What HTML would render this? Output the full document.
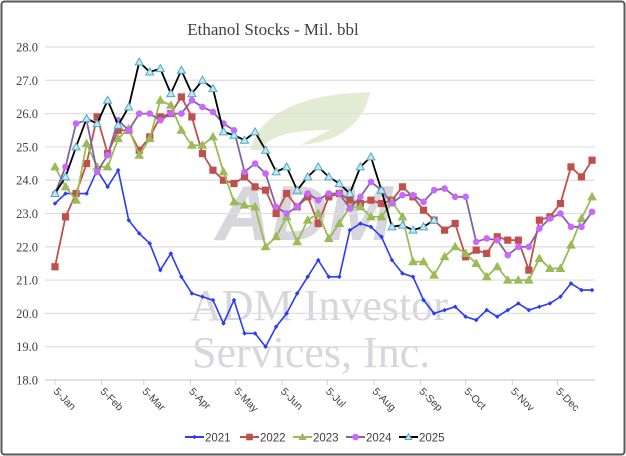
<!DOCTYPE html>
<html><head><meta charset="utf-8"><style>
body{margin:0;background:#fff;}
svg{display:block;font-family:"Liberation Sans",sans-serif;}
</style></head><body>
<svg id="chart" width="626" height="456" viewBox="0 0 626 456">
<rect x="1.5" y="1.5" width="623" height="453" rx="3" fill="#fff" stroke="#595959" stroke-width="2"/>
<text x="273" y="35" text-anchor="middle" font-family="Liberation Serif, serif" font-size="17" fill="#404040">Ethanol Stocks - Mil. bbl</text>
<g opacity="0.85">
<path d="M250 150 Q265 95 370 92 Q360 140 300 145 L330 130 Q270 130 262 150 Z" fill="#dde9cc"/>
<text x="215" y="240" font-size="78" font-weight="bold" fill="#cfcfd6" font-style="italic">ADM</text>
<text x="190" y="320" font-family="Liberation Serif, serif" font-size="44" fill="#cfcfd6">ADM Investor</text>
<text x="192" y="367" font-family="Liberation Serif, serif" font-size="44" fill="#cfcfd6">Services, Inc.</text>
</g>
<g id="grid"></g><g id="axes"></g><g id="series"></g><g id="legend"></g>
</svg>
<script>
const yTicks=[18,19,20,21,22,23,24,25,26,27,28];
const xTickLabels=["5-Jan","5-Feb","5-Mar","5-Apr","5-May","5-Jun","5-Jul","5-Aug","5-Sep","5-Oct","5-Nov","5-Dec"];
const xTickDays=[0,31,59,90,120,151,181,212,243,273,304,334];
const years=["2021","2022","2023","2024","2025"];
const s2021=[23.3,23.6,23.6,23.6,24.3,23.8,24.3,22.8,22.4,22.1,21.3,21.8,21.1,20.6,20.5,20.4,19.7,20.4,19.4,19.4,19.0,19.6,20.0,20.6,21.1,21.6,21.1,21.1,22.5,22.7,22.6,22.3,21.6,21.2,21.1,20.4,20.0,20.1,20.2,19.9,19.8,20.1,19.9,20.1,20.3,20.1,20.2,20.3,20.5,20.9,20.7,20.7];
const s2022=[21.4,22.9,23.6,24.5,25.9,24.8,25.5,25.5,24.9,25.3,25.9,26.0,26.5,25.9,24.8,24.3,24.0,23.9,24.1,23.8,23.7,23.0,23.6,23.2,23.5,22.7,23.5,23.6,23.4,23.3,23.4,23.3,23.4,23.8,23.5,23.1,22.8,22.5,22.7,21.7,21.9,21.8,22.3,22.2,22.2,21.3,22.8,22.9,23.3,24.4,24.1,24.6];
const s2023=[24.4,23.8,23.4,25.1,24.4,24.4,25.25,25.55,24.75,25.25,26.4,26.25,25.5,25.05,25.05,25.3,24.25,23.35,23.25,23.2,22.0,22.3,22.9,22.15,22.8,23.0,22.25,22.7,23.2,23.2,22.9,22.9,23.35,22.9,21.55,21.55,21.15,21.7,22.0,21.8,21.5,21.1,21.4,21.0,21.0,21.0,21.65,21.35,21.35,22.05,22.85,23.5];
const s2024=[23.6,24.4,25.7,25.8,24.25,24.75,25.8,25.5,26.0,26.0,25.8,26.0,26.0,26.4,26.2,26.05,25.7,25.5,24.25,24.5,24.2,23.2,23.0,23.2,23.6,23.4,23.6,23.6,23.15,23.5,23.95,23.7,23.3,23.55,23.55,23.35,23.7,23.75,23.5,23.5,22.15,22.25,22.2,21.75,22.0,22.0,22.55,22.85,23.0,22.6,22.6,23.05];
const s2025=[23.6,24.1,25.0,25.85,25.7,26.4,25.65,26.2,27.55,27.25,27.35,26.6,27.3,26.6,27.0,26.75,25.45,25.35,25.2,25.45,24.9,24.25,24.4,23.7,24.1,24.4,24.1,23.9,23.6,24.4,24.7,23.7,22.6,22.65,22.5,22.6,22.8];
const NS="http://www.w3.org/2000/svg";
const X0=55,PXD=10.53/7,Y0=380,PXV=33.3;
function xScale(day){return X0+day*PXD;}
function yScale(v){return Y0-(v-18)*PXV;}
function el(tag,attrs,parent){const e=document.createElementNS(NS,tag);for(const k in attrs)e.setAttribute(k,attrs[k]);parent.appendChild(e);return e;}
const grid=document.getElementById('grid'),axes=document.getElementById('axes'),ser=document.getElementById('series'),leg=document.getElementById('legend');
yTicks.forEach(v=>{
 const l=el('line',{x1:45,x2:595,y1:yScale(v),y2:yScale(v),stroke:v===18?'#d0d0d0':'#e0e0e0','stroke-width':1.3},grid);
 
 
 const t=el('text',{x:38,y:yScale(v)+4.5,'text-anchor':'end','font-family':'Liberation Serif, serif','font-size':12.5,fill:'#404040'},axes);
 t.textContent=v.toFixed(1);
 
 
});
xTickDays.forEach((d,i)=>{
 const x=xScale(d);
 const tk=el('line',{x1:x,x2:x,y1:380,y2:385,stroke:'#d0d0d0'},axes);
 
 
 const t=el('text',{x:x-2,y:392,'font-size':10.5,fill:'#404040',transform:'rotate(45 '+(x-2)+' 392)'},axes);
 t.textContent=xTickLabels[i];
 
 
});
const styles=[
 {data:s2021,line:'#2b3cf2',w:1.6,marker:'diamond',fill:'#2b3cf2',stroke:'#2b3cf2',r:2.3},
 {data:s2022,line:'#c0504d',w:1.8,marker:'square',fill:'#c0504d',stroke:'#c0504d',r:3.6},
 {data:s2023,line:'#9bbb59',w:1.8,marker:'triangle',fill:'#9bbb59',stroke:'#9bbb59',r:4},
 {data:s2024,line:'#8064a2',w:1.8,marker:'circle',fill:'#cc66ff',stroke:'#cc66ff',r:3.3},
 {data:s2025,line:'#000',w:1.8,marker:'triangle',fill:'#c6e5f0',stroke:'#4bacc6',r:4}
];
function marker(g,type,x,y,s){
 let m;
 if(type==='square')m=el('rect',{x:x-s.r,y:y-s.r,width:2*s.r,height:2*s.r,fill:s.fill},g);
 else if(type==='circle')m=el('circle',{cx:x,cy:y,r:s.r,fill:s.fill},g);
 else if(type==='diamond')m=el('path',{d:`M${x} ${y-s.r}L${x+s.r} ${y}L${x} ${y+s.r}L${x-s.r} ${y}Z`,fill:s.fill},g);
 else m=el('path',{d:`M${x} ${y-s.r}L${x+s.r} ${y+s.r*0.75}L${x-s.r} ${y+s.r*0.75}Z`,fill:s.fill,stroke:s.stroke,'stroke-width':1},g);
 return m;
}
styles.forEach((s,si)=>{
 const g=el('g',{},ser);
 
 
 const pts=s.data.map((v,i)=>[xScale(i*7),yScale(v)]);
 const pl=el('polyline',{points:pts.map(p=>p.join(',')).join(' '),fill:'none',stroke:s.line,'stroke-width':s.w,'stroke-linejoin':'round'},g);
 
 
 pts.forEach(p=>{
  const m=marker(g,s.marker,p[0],p[1],s);
  
  
 });
});
const legX=[185,240,293,346,399];
styles.forEach((s,si)=>{
 const g=el('g',{},leg);
 
 
 const x=legX[si];
 el('line',{x1:x,x2:x+19,y1:437,y2:437,stroke:s.line,'stroke-width':2},g);
 marker(g,s.marker,x+9.5,437,{fill:s.fill,stroke:s.stroke,r:Math.min(s.r,3.3)});
 const t=el('text',{x:x+20,y:441.5,'font-size':11.5,fill:'#404040'},g);
 t.textContent=years[si];
});
</script>
</body></html>
